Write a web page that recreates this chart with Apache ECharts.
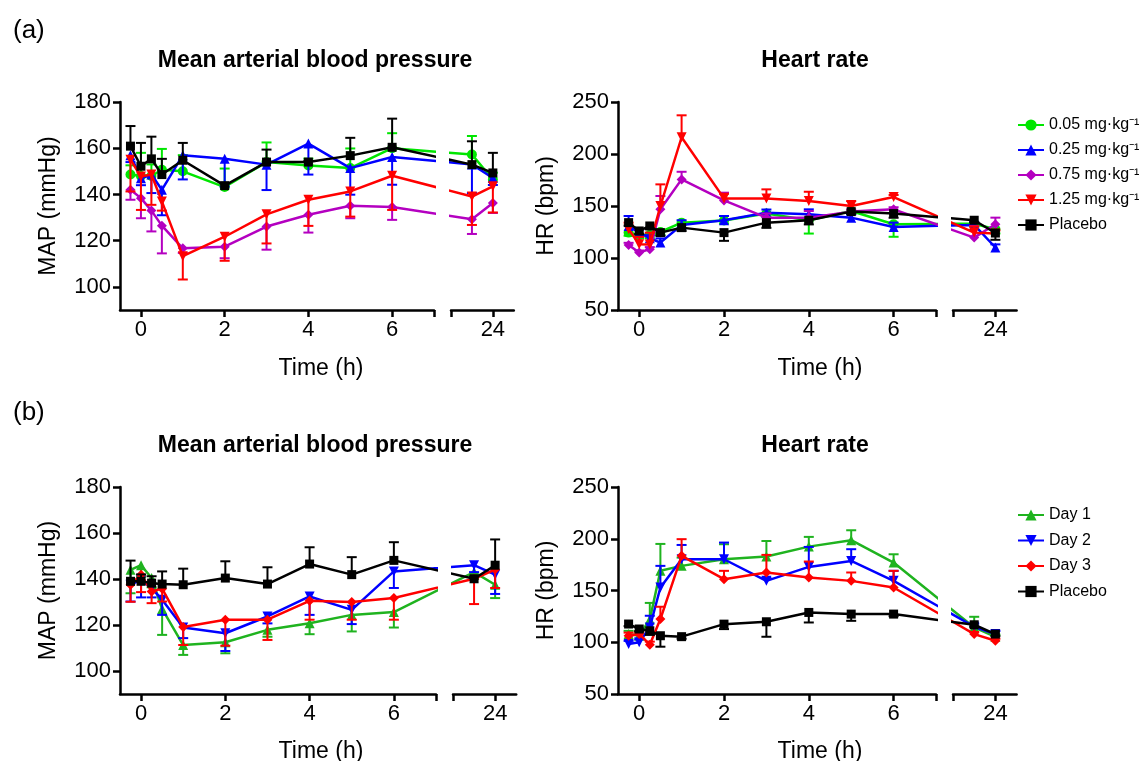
<!DOCTYPE html>
<html><head><meta charset="utf-8">
<script src="https://cdn.jsdelivr.net/npm/echarts@6/dist/echarts.min.js"></script>
<style>html,body{margin:0;padding:0;background:#fff}#c{width:1148px;height:761px}</style>
</head><body><div id="c"></div>
<script>
// ---------- data ----------
const TIMES = [-0.25, 0, 0.25, 0.5, 1, 2, 3, 4, 5, 6, 23.5, 24];
const X_TICKS_EARLY = [0, 2, 4, 6];
const X_TICKS_LATE = [24];
const MAP_TICKS = [100, 120, 140, 160, 180];
const HR_TICKS = [50, 100, 150, 200, 250];

const DOSE_NAMES = ['0.05 mg·kg⁻¹', '0.25 mg·kg⁻¹', '0.75 mg·kg⁻¹', '1.25 mg·kg⁻¹', 'Placebo'];
const DAY_NAMES = ['Day 1', 'Day 2', 'Day 3', 'Placebo'];

// (a) MAP
const A_MAP_005 = [148.6, 148, 148, 150.7, 150, 143.2, 154, 152.5, 151.4, 160, 157.3, 146.4];
const A_MAP_005_ERR = [4, 10, 5, 9, 7, 8, 8.5, 3, 8.5, 6.5, 8, 3];
const A_MAP_025 = [157, 147, 148.6, 142, 157, 155.4, 152.9, 162, 151.4, 156.2, 153, 147.1];
const A_MAP_025_ERR = [3, 3, 8, 11, 10.5, 12, 11, 13.4, 11.5, 12, 12.4, 3];
const A_MAP_075 = [142, 138.4, 133, 126.5, 116.7, 117.4, 126.1, 131.2, 135.1, 134.6, 129.3, 136.3];
const A_MAP_075_ERR = [4.3, 8.7, 9, 12, 2, 5, 10, 7.7, 5.4, 5.6, 6.4, 4.3];
const A_MAP_125 = [155, 147.8, 148.6, 137, 113.3, 121.7, 131.4, 137.7, 141.3, 148.1, 139.1, 143.5];
const A_MAP_125_ERR = [13.7, 14.5, 13.1, 4, 10.1, 10.4, 12.6, 11.3, 10.9, 14.8, 12.3, 11.3];
const A_MAP_PLA = [160.9, 152.2, 155.4, 148.6, 154.8, 143.8, 154, 154, 156.8, 160.4, 152.9, 149.3];
const A_MAP_PLA_ERR = [8.7, 10.1, 9.6, 6.8, 7.5, 1, 5.4, 0.5, 7.7, 12.4, 10.1, 8.7];

// (a) HR
const A_HR_005 = [124.4, 122, 122, 125, 134, 136, 142.7, 136.3, 145.2, 132.4, 133, 127.6];
const A_HR_005_ERR = [3, 3, 3, 3, 2, 3, 3, 12.8, 3, 12, 3, 4];
const A_HR_025 = [130.8, 124.4, 119, 114.8, 131.8, 136.3, 143.6, 142, 138.8, 129.9, 131.8, 110.1];
const A_HR_025_ERR = [9.6, 3, 3, 4, 4.5, 4.1, 3, 4.8, 3, 4.1, 3, 3];
const A_HR_075 = [112.6, 105.2, 108.5, 146.8, 175.6, 155.4, 138.8, 138.8, 144.6, 146.8, 119.6, 132.4];
const A_HR_075_ERR = [2, 2, 2, 12.8, 7.3, 7.4, 4, 6.4, 2, 2, 11.2, 6.4];
const A_HR_125 = [127.6, 113.3, 113, 150, 216.1, 157.3, 157.3, 154.8, 150, 158.6, 124.4, 123.5];
const A_HR_125_ERR = [6.4, 7, 11.4, 20.8, 21.1, 4.5, 8.7, 8.9, 4.8, 2, 6, 3];
const A_HR_PLA = [134, 126, 130.8, 124.4, 129.2, 124.4, 134, 136.3, 144.6, 142.7, 136.3, 124];
const A_HR_PLA_ERR = [3, 3, 3, 3, 3.2, 7.9, 5, 4, 2, 4, 2, 6.5];

// (b) MAP
const B_MAP_D1 = [144, 146, 140.4, 127, 111.3, 112.5, 117.9, 120.8, 124.4, 125.6, 143, 137.5];
const B_MAP_D1_ERR = [10.2, 5, 4, 11.3, 4.3, 4.8, 3, 4.8, 7.2, 6.7, 3, 5.8];
const B_MAP_D2 = [137.5, 139.7, 136, 131, 118.9, 116.4, 123.7, 132.4, 126.6, 143.3, 146, 141.9];
const B_MAP_D2_ERR = [7.3, 7.7, 4, 6.6, 4.6, 7.7, 3, 8, 6.2, 7.2, 3, 8.4];
const B_MAP_D3 = [137.5, 141.9, 134.6, 135.8, 119.1, 122.3, 122.3, 130.5, 130, 131.7, 140.1, 144.1];
const B_MAP_D3_ERR = [7.4, 7.6, 5.1, 5.6, 7.8, 11.3, 8.8, 8.2, 7.7, 9.4, 11, 8];
const B_MAP_PLA = [139, 139, 138.2, 137.8, 137.5, 140.4, 137.8, 146.5, 141.9, 148.1, 140.1, 146];
const B_MAP_PLA_ERR = [9, 3, 3, 5.5, 7, 7.3, 7.3, 7.3, 7.6, 7.9, 1, 11.2];

// (b) HR
const B_HR_D1 = [108, 106.3, 122, 169, 173.8, 180.2, 182.8, 192.4, 198.6, 177, 114.3, 105.3];
const B_HR_D1_ERR = [3, 3, 16, 26, 8, 14.5, 15, 9.4, 9.6, 8, 10.3, 2];
const B_HR_D2 = [98.3, 99.9, 114.3, 152.9, 180.3, 180.2, 159.3, 172.8, 178.6, 159.3, 115, 107.9];
const B_HR_D2_ERR = [3, 3, 11.3, 20.9, 13.7, 16.1, 3, 19.3, 11.3, 9.7, 3, 3];
const B_HR_D3 = [106.3, 108, 97.6, 122.4, 183.5, 160.9, 167.4, 162.5, 159.3, 152.9, 107.9, 101.4];
const B_HR_D3_ERR = [3, 2, 3, 11.9, 16.1, 8.1, 17, 15.5, 8.1, 16.1, 2, 2];
const B_HR_PLA = [117.6, 112.8, 111.1, 106.3, 105.4, 117.5, 119.8, 128.8, 127.2, 127.2, 116.9, 107.9];
const B_HR_PLA_ERR = [2, 2, 4, 10.6, 2, 4.8, 14.5, 9.7, 6.5, 2, 2, 2];

// ---------- styles / layout ----------
const FONT = 'Liberation Sans, Arial, Helvetica, sans-serif';
const C_GREEN = '#00e600', C_GREEN2 = '#1fb31f', C_BLUE = '#0000ff', C_MAG = '#b400c0', C_RED = '#ff0000', C_BLACK = '#000000';

const doseStyles = [
  {name: DOSE_NAMES[0], color: C_GREEN, symbol: 'circle', rot: 0},
  {name: DOSE_NAMES[1], color: C_BLUE, symbol: 'triangle', rot: 0},
  {name: DOSE_NAMES[2], color: C_MAG, symbol: 'diamond', rot: 0},
  {name: DOSE_NAMES[3], color: C_RED, symbol: 'triangle', rot: 180},
  {name: DOSE_NAMES[4], color: C_BLACK, symbol: 'rect', rot: 0}
];
const dayStyles = [
  {name: DAY_NAMES[0], color: C_GREEN2, symbol: 'triangle', rot: 0},
  {name: DAY_NAMES[1], color: C_BLUE, symbol: 'triangle', rot: 180},
  {name: DAY_NAMES[2], color: C_RED, symbol: 'diamond', rot: 0},
  {name: DAY_NAMES[3], color: C_BLACK, symbol: 'rect', rot: 0}
];

const panels = [
  {left: 120, wA: 314, top: 102, h: 208, yMin: 90, yMax: 180, yTicks: MAP_TICKS, yName: 'MAP (mmHg)',
   styles: doseStyles, vals: [A_MAP_005, A_MAP_025, A_MAP_075, A_MAP_125, A_MAP_PLA],
   errs: [A_MAP_005_ERR, A_MAP_025_ERR, A_MAP_075_ERR, A_MAP_125_ERR, A_MAP_PLA_ERR], dirs: [1, -1, -1, -1, 1]},
  {left: 618, wA: 318, top: 102, h: 208, yMin: 50, yMax: 250, yTicks: HR_TICKS, yName: 'HR (bpm)',
   styles: doseStyles, vals: [A_HR_005, A_HR_025, A_HR_075, A_HR_125, A_HR_PLA],
   errs: [A_HR_005_ERR, A_HR_025_ERR, A_HR_075_ERR, A_HR_125_ERR, A_HR_PLA_ERR], dirs: [-1, 1, 1, 1, -1]},
  {left: 120, wA: 316, top: 487, h: 207, yMin: 90, yMax: 180, yTicks: MAP_TICKS, yName: 'MAP (mmHg)',
   styles: dayStyles, vals: [B_MAP_D1, B_MAP_D2, B_MAP_D3, B_MAP_PLA],
   errs: [B_MAP_D1_ERR, B_MAP_D2_ERR, B_MAP_D3_ERR, B_MAP_PLA_ERR], dirs: [-1, -1, -1, 1]},
  {left: 618, wA: 318, top: 487, h: 207, yMin: 50, yMax: 250, yTicks: HR_TICKS, yName: 'HR (bpm)',
   styles: dayStyles, vals: [B_HR_D1, B_HR_D2, B_HR_D3, B_HR_PLA],
   errs: [B_HR_D1_ERR, B_HR_D2_ERR, B_HR_D3_ERR, B_HR_PLA_ERR], dirs: [1, 1, 1, -1]}
];

const GAP_PX = 17;
const grid = [], xAxis = [], yAxis = [], series = [];
const axisLineStyle = {color: '#000', width: 2.5};
const labelStyle = {color: '#000', fontSize: 22, fontFamily: FONT};

panels.forEach((p, pi) => {
  const pxh = p.wA / 7.5;
  const leftB = p.left + p.wA + GAP_PX;
  const wB = 1.5 * pxh;
  const gapH = GAP_PX / pxh;
  const gA = pi * 2, gB = pi * 2 + 1;
  grid.push({left: p.left, top: p.top, width: p.wA, height: p.h});
  grid.push({left: leftB, top: p.top, width: wB, height: p.h});
  xAxis.push({gridIndex: gA, type: 'value', min: -0.5, max: 7,
    axisLine: {onZero: false, lineStyle: axisLineStyle},
    axisTick: {customValues: X_TICKS_EARLY.concat([7]), length: 7, lineStyle: axisLineStyle},
    axisLabel: {customValues: X_TICKS_EARLY, margin: 9, ...labelStyle},
    splitLine: {show: false}});
  xAxis.push({gridIndex: gB, type: 'value', min: 23, max: 24.5,
    axisLine: {onZero: false, lineStyle: axisLineStyle},
    axisTick: {customValues: [23].concat(X_TICKS_LATE), length: 7, lineStyle: axisLineStyle},
    axisLabel: {customValues: X_TICKS_LATE, margin: 9, ...labelStyle},
    splitLine: {show: false}});
  yAxis.push({gridIndex: gA, type: 'value', min: p.yMin, max: p.yMax,
    name: p.yName, nameLocation: 'middle', nameGap: 60,
    nameTextStyle: {color: '#000', fontSize: 23, fontFamily: FONT},
    axisLine: {show: true, onZero: false, lineStyle: axisLineStyle},
    axisTick: {show: true, customValues: p.yTicks, length: 7, lineStyle: axisLineStyle},
    axisLabel: {customValues: p.yTicks, margin: 9, ...labelStyle},
    splitLine: {show: false}});
  yAxis.push({gridIndex: gB, type: 'value', min: p.yMin, max: p.yMax, show: false, splitLine: {show: false}});

  const mapA = t => (t <= 7 ? t : (t - 23) + 7 + gapH);
  const mapB = t => (t >= 23 ? t : (t - 7) - gapH + 23);

  p.styles.forEach((s, si) => {
    const vals = p.vals[si], errs = p.errs[si], dir = p.dirs[si];
    [[gA, mapA, t => t <= 7], [gB, mapB, t => t >= 23]].forEach(([gi, mp, inSeg]) => {
      const errData = [];
      TIMES.forEach((t, i) => { if (inSeg(t)) errData.push([t, vals[i], vals[i] + dir * errs[i]]); });
      series.push({
        type: 'custom', name: s.name + ' err', xAxisIndex: gi, yAxisIndex: gi, silent: true,
        clip: true, z: 2 + si * 2, encode: {x: 0, y: [1, 2]}, data: errData,
        renderItem: (params, api) => {
          const a = api.coord([api.value(0), api.value(1)]);
          const b = api.coord([api.value(0), api.value(2)]);
          const st = {stroke: s.color, lineWidth: 2};
          return {type: 'group', children: [
            {type: 'line', shape: {x1: a[0], y1: a[1], x2: b[0], y2: b[1]}, style: st},
            {type: 'line', shape: {x1: b[0] - 5, y1: b[1], x2: b[0] + 5, y2: b[1]}, style: st}
          ]};
        }
      });
      series.push({
        type: 'line', name: s.name, xAxisIndex: gi, yAxisIndex: gi, clip: true, z: 3 + si * 2,
        data: TIMES.map((t, i) => [mp(t), vals[i]]),
        symbol: s.symbol, symbolRotate: s.rot, symbolSize: s.symbol === 'rect' ? 9 : 10, showSymbol: true,
        lineStyle: {color: s.color, width: 2.5}, itemStyle: {color: s.color},
        emphasis: {disabled: true}
      });
    });
  });
});

const titleStyle = {color: '#000', fontSize: 23, fontWeight: 'bold', fontFamily: FONT};
const plainStyle = {color: '#000', fontSize: 23, fontWeight: 'normal', fontFamily: FONT};
const option = {
  animation: false,
  backgroundColor: '#fff',
  title: [
    {text: '(a)', left: 8, top: 13, textStyle: {...plainStyle, fontSize: 26}},
    {text: '(b)', left: 8, top: 395, textStyle: {...plainStyle, fontSize: 26}},
    {text: 'Mean arterial blood pressure', left: 310, top: 44, textAlign: 'center', textStyle: titleStyle},
    {text: 'Heart rate', left: 810, top: 44, textAlign: 'center', textStyle: titleStyle},
    {text: 'Mean arterial blood pressure', left: 310, top: 429, textAlign: 'center', textStyle: titleStyle},
    {text: 'Heart rate', left: 810, top: 429, textAlign: 'center', textStyle: titleStyle},
    {text: 'Time (h)', left: 316, top: 352, textAlign: 'center', textStyle: plainStyle},
    {text: 'Time (h)', left: 815, top: 352, textAlign: 'center', textStyle: plainStyle},
    {text: 'Time (h)', left: 316, top: 735, textAlign: 'center', textStyle: plainStyle},
    {text: 'Time (h)', left: 815, top: 735, textAlign: 'center', textStyle: plainStyle}
  ],
  legend: [
    {data: DOSE_NAMES, orient: 'vertical', left: 1012, top: 112, itemWidth: 26, itemHeight: 14, itemGap: 9,
     textStyle: {color: '#000', fontSize: 16, fontFamily: FONT}, selectedMode: false},
    {data: DAY_NAMES, orient: 'vertical', left: 1012, top: 502, itemWidth: 26, itemHeight: 14, itemGap: 9.5,
     textStyle: {color: '#000', fontSize: 16, fontFamily: FONT}, selectedMode: false}
  ],
  grid, xAxis, yAxis, series
};
const chart = echarts.init(document.getElementById('c'), null, {renderer: 'canvas'});
chart.setOption(option);
</script></body></html>
